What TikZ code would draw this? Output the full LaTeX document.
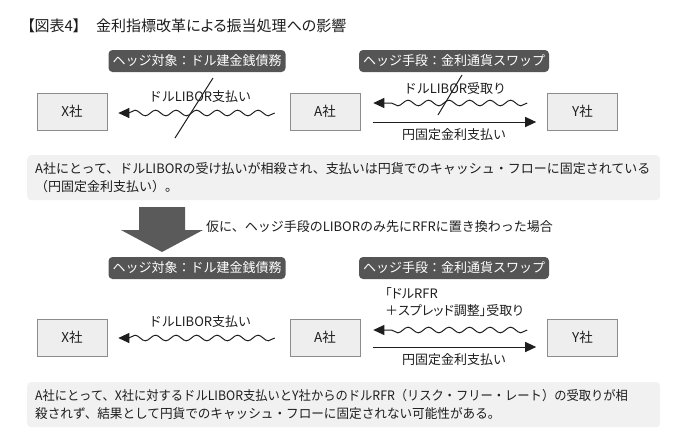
\documentclass[tikz,border=0pt]{standalone}
\usepackage{fontspec}
\setmainfont{Noto Sans CJK JP}
\newfontfamily\paltfont{Noto Sans CJK JP}[RawFeature={+palt}]
\usetikzlibrary{arrows.meta,decorations.pathmorphing,calc}
\definecolor{darklab}{HTML}{555555}
\definecolor{boxfill}{HTML}{EEEEEE}
\definecolor{boxline}{HTML}{8C8C8C}
\definecolor{notefill}{HTML}{F1F1F1}
\definecolor{bigarrow}{HTML}{5A5A5A}
\definecolor{ink}{HTML}{1E1E1E}
\tikzset{
  company/.style={draw=boxline, fill=boxfill, minimum width=70pt, minimum height=37pt, font=\fontsize{13.5}{15}\selectfont, text=ink, line width=0.6pt},
  darktag/.style={fill=darklab, text=white, rounded corners=4pt, minimum height=22pt, inner xsep=4pt, inner ysep=2pt, font=\fontsize{13}{15}\selectfont},
  flowlabel/.style={font=\fontsize{13}{15}\selectfont, text=ink, inner sep=1pt},
  note/.style={fill=notefill, rounded corners=4pt, anchor=north west, align=left, text=ink, font=\fontsize{13}{18}\selectfont, inner xsep=8pt, inner ysep=5pt, minimum height=45pt, text width=617pt},
  wavy/.style={line width=1pt, ink, -{Triangle[length=11pt,width=10pt]}, decorate, decoration={snake, segment length=20.5pt, amplitude=2.8pt, post length=9pt}},
  straight/.style={line width=1pt, ink, -{Triangle[length=11pt,width=10pt]}},
  cross/.style={line width=1pt, ink}
}
\begin{document}
\begin{tikzpicture}[x=1pt,y=-1pt]
\useasboundingbox (0,0) rectangle (700,445);
\fill[white] (0,0) rectangle (700,445);

% title
\node[anchor=west, font=\paltfont\fontsize{15}{17}\selectfont, text=ink, inner sep=0pt] (title) at (27,26) {【図表4】};
\node[anchor=west, font=\paltfont\fontsize{15}{17}\selectfont, text=ink, inner sep=0pt] (title2) at (96,26) {金利指標改革による振当処理への影響};

% ---------- upper section ----------
\node[darktag] (tagL1) at (197,61) {ヘッジ対象：ドル建金銭債務};
\node[darktag] (tagR1) at (454,61) {ヘッジ手段：金利通貨スワップ};

\node[company] (X1) at (72,111.5) {X社};
\node[company] (A1) at (325,111.5) {A社};
\node[company] (Y1) at (582.5,111.5) {Y社};

\draw[wavy] ($(A1.west)+(-15,1.5)$) -- ($(X1.east)+(11,1.5)$);
\node[flowlabel] (l1) at (200,97) {ドルLIBOR支払い};
\coordinate (c1a) at (213,78);
\coordinate (c1b) at (175,138);
\draw[cross] (c1a) -- (c1b);

\draw[wavy] ($(Y1.west)+(-20,-8.5)$) -- ($(A1.east)+(13,-8.5)$);
\node[flowlabel] (l2) at (455,89) {ドルLIBOR受取り};
\coordinate (c2a) at (462,75);
\coordinate (c2b) at (438,115);
\draw[cross] (c2a) -- (c2b);

\draw[straight] ($(A1.east)+(13,10.5)$) -- ($(Y1.west)+(-11,10.5)$);
\node[flowlabel] (l3) at (454,135) {円固定金利支払い};

\node[note] (note1) at (27,155) {A社にとって、ドルLIBORの受け払いが相殺され、支払いは円貨でのキャッシュ・フローに固定されている\\（円固定金利支払い）。};

% big arrow
\fill[bigarrow] (139,207) -- (185,207) -- (185,230) -- (203,230) -- (162,252) -- (121,230) -- (139,230) -- cycle;
\node[anchor=west, font=\fontsize{13}{15}\selectfont, text=ink, inner sep=0pt] (cond) at (206,227) {仮に、ヘッジ手段のLIBORのみ先にRFRに置き換わった場合};

% ---------- lower section ----------
\node[darktag] (tagL2) at (197,268) {ヘッジ対象：ドル建金銭債務};
\node[darktag] (tagR2) at (454,268) {ヘッジ手段：金利通貨スワップ};

\node[company] (X2) at (72,337.5) {X社};
\node[company] (A2) at (325,337.5) {A社};
\node[company] (Y2) at (582.5,337.5) {Y社};

\draw[wavy] ($(A2.west)+(-15,0.5)$) -- ($(X2.east)+(11,0.5)$);
\node[flowlabel] (l4) at (200,322) {ドルLIBOR支払い};

\draw[wavy] ($(Y2.west)+(-20,-7.5)$) -- ($(A2.east)+(13,-7.5)$);
\node[flowlabel, anchor=west, align=left, font=\paltfont\fontsize{13}{17}\selectfont] (l5) at (384,302) {「ドルRFR\\＋スプレッド調整」受取り};

\draw[straight] ($(A2.east)+(13,9.5)$) -- ($(Y2.west)+(-11,9.5)$);
\node[flowlabel] (l6) at (454,360) {円固定金利支払い};

\node[note] (note2) at (27,382) {\scalebox{0.945}[1]{A社にとって、X社に対するドルLIBOR支払いとY社からのドルRFR（リスク・フリー・レート）の受取りが相}\\\scalebox{0.97}[1]{殺されず、結果として円貨でのキャッシュ・フローに固定されない可能性がある。}};
\end{tikzpicture}
\end{document}
